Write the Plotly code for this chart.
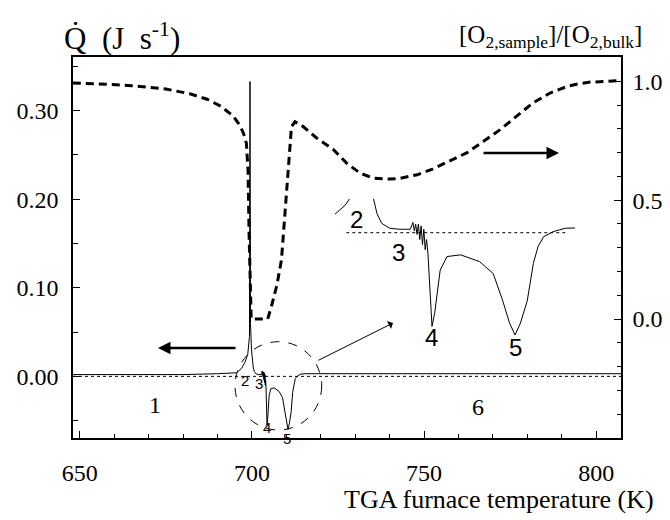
import plotly.graph_objects as go

# ---- data ----
# Heat flow Q-dot (J/s) vs TGA furnace temperature (K)
q_T = [648, 660, 670, 680, 690, 693, 695.5, 697.0, 698.0, 698.8, 699.3, 699.45, 699.6,
       699.9, 700.1, 700.35, 700.7, 701.3, 702.0, 702.8, 702.9, 703.0, 703.1, 703.2,
       703.3, 703.4, 703.5, 703.6, 703.7, 703.8, 703.9, 704.0, 704.1, 704.25, 704.4,
       704.6, 704.85, 705.0, 705.5, 706.5, 707.9, 708.9, 709.6, 710.1, 710.5, 710.9,
       711.4, 711.85, 712.2, 712.6, 713.3, 714.2, 716, 730, 760, 790, 807.2]
q_val = [0.002, 0.002, 0.002, 0.002, 0.003, 0.0035, 0.004, 0.009, 0.016, 0.025, 0.045, 0.333, 0.06,
         0.030, 0.020, 0.0114, 0.0055, 0.0026, 0.002, 0.002, 0.004, 0.006, 0.001, 0.005,
         -0.001, 0.005, -0.004, 0.004, -0.007, 0.002, -0.010, -0.004, -0.012, -0.035, -0.055,
         -0.047, -0.032, -0.022, -0.014, -0.013, -0.017, -0.024, -0.040, -0.053, -0.060, -0.053,
         -0.040, -0.018, -0.008, -0.0024, 0.0006, 0.0026, 0.003, 0.003, 0.003, 0.003, 0.003]

# Oxygen ratio [O2,sample]/[O2,bulk]
o2_T = [648, 655, 665, 675, 682, 687, 691, 694.5, 696.5, 697.6, 698.4, 698.9, 699.2, 699.5,
        699.8, 702, 704.6, 705.8, 707.3, 708.6, 709.5, 710.3, 711.5, 712.5, 714.9, 718.8,
        723.7, 727.5, 731.4, 735.3, 740.1, 743, 748, 752.6, 757, 762.5, 767.2, 772.1,
        777, 781.7, 786.6, 791.6, 795, 798.3, 803, 807.2]
o2_val = [0.993, 0.99, 0.982, 0.968, 0.948, 0.925, 0.895, 0.855, 0.815, 0.78, 0.74, 0.62, 0.35, 0.08,
          0.0, 0.0, 0.0, 0.06, 0.145, 0.25, 0.42, 0.60, 0.81, 0.83, 0.81, 0.762,
          0.713, 0.656, 0.614, 0.593, 0.589, 0.592, 0.607, 0.632, 0.662, 0.70, 0.747, 0.797,
          0.855, 0.91, 0.951, 0.979, 0.99, 0.997, 1.0, 1.004]

x_ticks = [650, 700, 750, 800]
y_ticks = [0.0, 0.1, 0.2, 0.3]
y_tick_text = ["0.00", "0.10", "0.20", "0.30"]
y2_ticks = [0.0, 0.5, 1.0]
y2_tick_text = ["0.0", "0.5", "1.0"]

FONT = "Liberation Serif"
SANS = "Liberation Sans"
W, H = 670, 520
ML, MR, MT, MB = 73, 49, 57, 82
PW, PH = W - ML - MR, H - MT - MB

def px(x):
    return (x - ML) / PW

def py(y):
    return (H - MB - y) / PH

fig = go.Figure()

fig.add_trace(go.Scatter(x=q_T, y=q_val, mode="lines", line=dict(color="black", width=1),
                         xaxis="x", yaxis="y", showlegend=False))
fig.add_trace(go.Scatter(x=o2_T, y=o2_val, mode="lines",
                         line=dict(color="black", width=3, dash="8px,5px"),
                         xaxis="x", yaxis="y2", showlegend=False))
# magnified inset of the same heat-flow data
fig.add_trace(go.Scatter(x=q_T, y=q_val, mode="lines", line=dict(color="black", width=1),
                         xaxis="x3", yaxis="y3", showlegend=False))

tick_font = dict(family=FONT, size=24, color="black")

fig.update_layout(
    width=W, height=H,
    margin=dict(l=ML, r=MR, t=MT, b=MB),
    paper_bgcolor="white", plot_bgcolor="white",
    font=dict(family=FONT, color="black"),
    xaxis=dict(range=[648.05, 807.2], tickvals=x_ticks, ticks="inside", ticklen=7,
               tickcolor="black", showline=True, linecolor="black", linewidth=1.5,
               mirror=True, showgrid=False, zeroline=False, tickfont=tick_font,
               ticklabelstandoff=12, automargin=False,
               minor=dict(dtick=10, tick0=650, ticks="inside", ticklen=4,
                          tickcolor="black", showgrid=False)),
    yaxis=dict(range=[-0.0696, 0.3606], tickvals=y_ticks, ticktext=y_tick_text,
               ticks="inside", ticklen=7, tickcolor="black", showline=True,
               linecolor="black", linewidth=1.5, showgrid=False, zeroline=False,
               tickfont=tick_font, ticklabelstandoff=8, automargin=False,
               minor=dict(dtick=0.05, tick0=0, ticks="inside", ticklen=5,
                          tickcolor="black", showgrid=False)),
    yaxis2=dict(range=[-0.5008, 1.1027], overlaying="y", side="right", anchor="x",
                tickvals=y2_ticks, ticktext=y2_tick_text, ticks="inside", ticklen=7,
                tickcolor="black", showline=True, linecolor="black", linewidth=1.5,
                showgrid=False, zeroline=False, tickfont=tick_font, ticklabelstandoff=5,
                automargin=False,
                minor=dict(dtick=0.1, tick0=0, ticks="inside", ticklen=4,
                           tickcolor="black", showgrid=False)),
    xaxis3=dict(domain=[px(335), px(575)], anchor="y3", range=[697.27, 714.91],
                visible=False),
    yaxis3=dict(domain=[py(360), py(199)], anchor="x3", range=[-0.0747, 0.01977],
                visible=False),
)

shapes = [
    # zero reference (dotted) in main plot
    dict(type="line", xref="paper", yref="y", x0=0, x1=1, y0=0, y1=0,
         line=dict(color="black", width=1, dash="dot")),
    # zero reference in inset
    dict(type="line", xref="x3", yref="y3", x0=698.1, x1=714.2, y0=0, y1=0,
         line=dict(color="black", width=1, dash="dot")),
    # dashed circle around the detail region
    dict(type="circle", xref="paper", yref="paper", x0=px(235), x1=px(321.7),
         y0=py(430), y1=py(341.7), line=dict(color="black", width=1, dash="dash")),
]
fig.update_layout(shapes=shapes)

NB = "\u00a0"
ann = []
# axis titles
ann.append(dict(text="Q\u0307" + NB + NB + "(J" + NB + NB + "s<sup>-1</sup>)",
                xref="paper", yref="paper",
                x=px(62), y=py(58), xanchor="left", yanchor="bottom", showarrow=False,
                font=dict(family=FONT, size=31, color="black")))
ann.append(dict(text="[O<sub>2,sample</sub>]/[O<sub>2,bulk</sub>]", xref="paper", yref="paper",
                x=px(644), y=py(54), xanchor="right", yanchor="bottom", showarrow=False,
                font=dict(family=FONT, size=25, color="black")))
ann.append(dict(text="TGA furnace temperature (K)", xref="paper", yref="paper",
                x=px(656), y=py(499), xanchor="right", yanchor="middle", showarrow=False,
                font=dict(family=FONT, size=26, color="black")))
# arrows
ann.append(dict(text="", xref="paper", yref="paper", x=px(158), y=py(348),
                ax=79, ay=0, axref="pixel", ayref="pixel", showarrow=True,
                arrowhead=2, arrowsize=1, arrowwidth=2.5, arrowcolor="black"))
ann.append(dict(text="", xref="paper", yref="paper", x=px(559), y=py(153),
                ax=-77, ay=0, axref="pixel", ayref="pixel", showarrow=True,
                arrowhead=2, arrowsize=1, arrowwidth=2.5, arrowcolor="black"))
ann.append(dict(text="", xref="paper", yref="paper", x=px(393), y=py(323),
                ax=-76, ay=38, axref="pixel", ayref="pixel", showarrow=True,
                arrowhead=1, arrowsize=1.5, arrowwidth=1, arrowcolor="black"))

def label(t, x, y, size, fam=FONT):
    ann.append(dict(text=t, xref="paper", yref="paper", x=px(x), y=py(y),
                    xanchor="center", yanchor="middle", showarrow=False,
                    font=dict(family=fam, size=size, color="black")))

label("1", 155, 405, 24)
label("6", 478, 407, 24)
label("2", 245, 380, 15, SANS)
label("3", 259, 383, 15, SANS)
label("4", 266.7, 427, 15, SANS)
label("5", 286.7, 438, 15, SANS)
label("2", 356, 219, 24, SANS)
label("3", 398, 252, 24, SANS)
label("4", 431, 337, 24, SANS)
label("5", 515, 347, 24, SANS)

fig.update_layout(annotations=ann)

fig.write_html("out.html", config={"displayModeBar": False},
               post_script="document.body.style.margin='0px';document.body.style.padding='0px';")
